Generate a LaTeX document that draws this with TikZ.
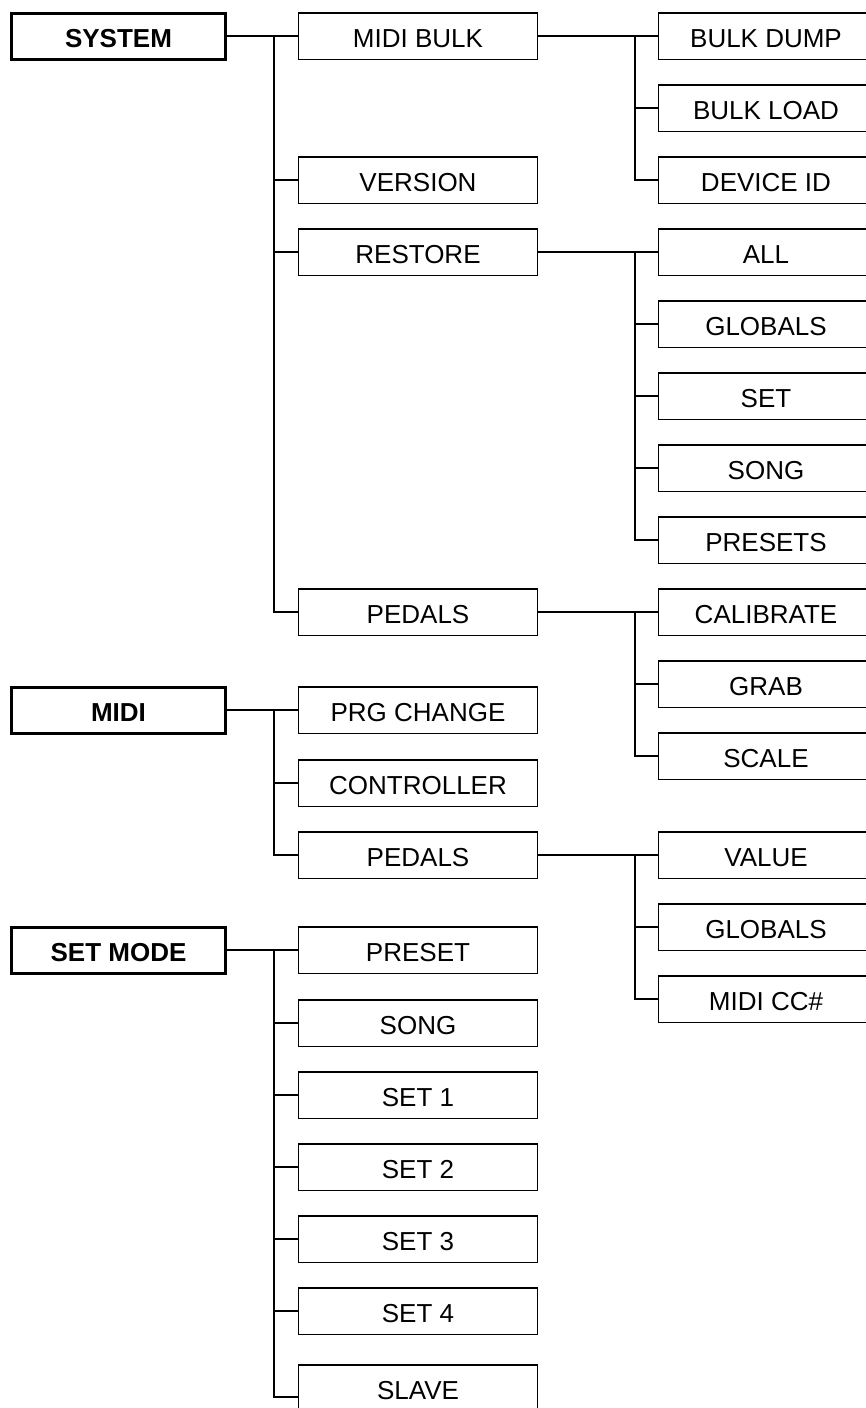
\documentclass[tikz,border=0pt]{standalone}
\usepackage{fontspec}
\setmainfont{Liberation Sans}
\begin{document}
\begin{tikzpicture}[x=1pt,y=-1pt,
  txt/.style={font=\fontsize{26pt}{30pt}\selectfont, text height=22.6pt, text depth=0pt, inner sep=0pt},
  box/.style={txt, draw, line width=1.5pt, minimum width=239pt, minimum height=46.5pt},
  rbox/.style={box, minimum width=215pt},
  head/.style={txt, draw, line width=3pt, minimum width=214pt, minimum height=46pt, font=\fontsize{26pt}{30pt}\selectfont\bfseries},
  link/.style={line width=1.5pt}]
\useasboundingbox (0,0) rectangle (866,1408);
\clip (0,0) rectangle (866,1408);
\fill[white] (0,0) rectangle (866,1408);
% heads
\node[head] (system) at (118.5,36) {SYSTEM};
\node[head] (midi) at (118.5,710) {MIDI};
\node[head] (setmode) at (118.5,950) {SET MODE};
% middle column
\node[box] (midibulk) at (418,36) {MIDI BULK};
\node[box] (version) at (418,180) {VERSION};
\node[box] (restore) at (418,252) {RESTORE};
\node[box] (pedalsA) at (418,612) {PEDALS};
\node[box] (prg) at (418,710) {PRG CHANGE};
\node[box] (controller) at (418,783) {CONTROLLER};
\node[box] (pedalsB) at (418,855) {PEDALS};
\node[box] (preset) at (418,950) {PRESET};
\node[box] (songM) at (418,1023) {SONG};
\node[box] (set1) at (418,1095) {SET 1};
\node[box] (set2) at (418,1167) {SET 2};
\node[box] (set3) at (418,1239) {SET 3};
\node[box] (set4) at (418,1311) {SET 4};
\node[box] (slave) at (418,1388) {SLAVE};
% right column
\node[rbox] (bulkdump) at (766,36) {BULK DUMP};
\node[rbox] (bulkload) at (766,108) {BULK LOAD};
\node[rbox] (deviceid) at (766,180) {DEVICE ID};
\node[rbox] (all) at (766,252) {ALL};
\node[rbox] (globalsA) at (766,324) {GLOBALS};
\node[rbox] (setR) at (766,396) {SET};
\node[rbox] (songR) at (766,468) {SONG};
\node[rbox] (presets) at (766,540) {PRESETS};
\node[rbox] (calibrate) at (766,612) {CALIBRATE};
\node[rbox] (grab) at (766,684) {GRAB};
\node[rbox] (scale) at (766,756) {SCALE};
\node[rbox] (value) at (766,855) {VALUE};
\node[rbox] (globalsB) at (766,927) {GLOBALS};
\node[rbox] (midicc) at (766,999) {MIDI CC\#};
% bus points
\coordinate (bA) at (274,36);
\coordinate (bB) at (274,710);
\coordinate (bC) at (274,950);
\coordinate (rA) at (635,36);
\coordinate (rB) at (635,252);
\coordinate (rC) at (635,612);
\coordinate (rD) at (635,855);
% connectors
\draw[link] (system.east) -- (midibulk.west);
\foreach \n in {version,restore,pedalsA} \draw[link] (bA) |- (\n.west);
\draw[link] (midi.east) -- (prg.west);
\foreach \n in {controller,pedalsB} \draw[link] (bB) |- (\n.west);
\draw[link] (setmode.east) -- (preset.west);
\foreach \n in {songM,set1,set2,set3,set4} \draw[link] (bC) |- (\n.west);
\draw[link] (bC) |- ([yshift=-9pt]slave.west);
\draw[link] (midibulk.east) -- (bulkdump.west);
\foreach \n in {bulkload,deviceid} \draw[link] (rA) |- (\n.west);
\draw[link] (restore.east) -- (all.west);
\foreach \n in {globalsA,setR,songR,presets} \draw[link] (rB) |- (\n.west);
\draw[link] (pedalsA.east) -- (calibrate.west);
\foreach \n in {grab,scale} \draw[link] (rC) |- (\n.west);
\draw[link] (pedalsB.east) -- (value.west);
\foreach \n in {globalsB,midicc} \draw[link] (rD) |- (\n.west);
\end{tikzpicture}
\end{document}
